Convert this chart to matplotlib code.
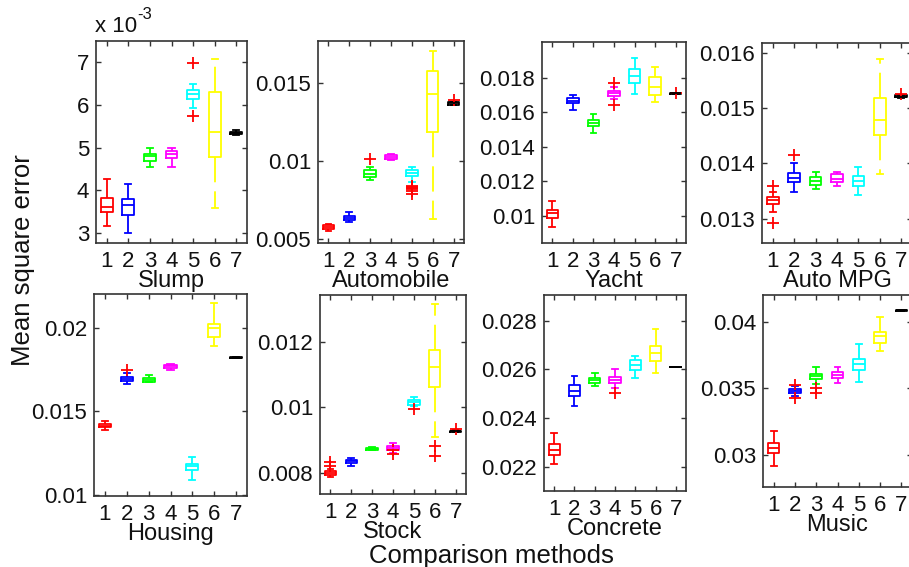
import matplotlib
matplotlib.use('Agg')
import matplotlib.pyplot as plt

plt.rcParams['font.family'] = ['Liberation Sans', 'DejaVu Sans']

methods = [1, 2, 3, 4, 5, 6, 7]
method_labels = ['1', '2', '3', '4', '5', '6', '7']
colors = ['#ff0000', '#0000ff', '#00ff00', '#ff00ff', '#00ffff', '#ffff00', '#000000']

# ---- Slump (values in units of 1e-3) ----
slump_lo  = [3.17, 3.00, 4.56, 4.56, 5.94, 3.58, 5.29]
slump_q1  = [3.50, 3.43, 4.68, 4.75, 6.15, 4.79, 5.32]
slump_med = [3.62, 3.65, 4.80, 4.85, 6.25, 5.37, 5.35]
slump_q3  = [3.83, 3.80, 4.86, 4.93, 6.35, 6.31, 5.38]
slump_hi  = [4.27, 4.15, 5.00, 5.00, 6.49, 7.09, 5.42]
slump_out = [[], [], [], [], [6.98, 5.74], [], []]
slump_ticks = [3, 4, 5, 6, 7]
slump_ticklabels = ['3', '4', '5', '6', '7']

# ---- Automobile ----
auto_lo  = [0.00553, 0.00609, 0.00880, 0.01010, 0.00865, 0.00632, 0.01358]
auto_q1  = [0.00566, 0.00622, 0.00900, 0.01015, 0.00904, 0.01190, 0.01362]
auto_med = [0.00579, 0.00637, 0.00921, 0.01028, 0.00925, 0.01432, 0.01370]
auto_q3  = [0.00592, 0.00652, 0.00942, 0.01041, 0.00945, 0.01581, 0.01378]
auto_hi  = [0.00600, 0.00677, 0.00964, 0.01045, 0.00962, 0.01709, 0.01382]
auto_out = [[], [], [0.01015], [], [0.00842, 0.00835, 0.00828, 0.0082, 0.00812, 0.0079], [], [0.0139]]
auto_ticks = [0.005, 0.01, 0.015]
auto_ticklabels = ['0.005', '0.01', '0.015']

# ---- Yacht ----
yacht_lo  = [0.00936, 0.01614, 0.01480, 0.01678, 0.01707, 0.01662, 0.01708]
yacht_q1  = [0.00983, 0.01653, 0.01519, 0.01697, 0.01769, 0.01699, 0.01710]
yacht_med = [0.01016, 0.01668, 0.01539, 0.01711, 0.01810, 0.01746, 0.01712]
yacht_q3  = [0.01031, 0.01682, 0.01558, 0.01724, 0.01854, 0.01808, 0.01714]
yacht_hi  = [0.01085, 0.01699, 0.01591, 0.01748, 0.01916, 0.01862, 0.01716]
yacht_out = [[], [], [], [0.01771, 0.01643], [], [], [0.01715]]
yacht_ticks = [0.01, 0.012, 0.014, 0.016, 0.018]
yacht_ticklabels = ['0.01', '0.012', '0.014', '0.016', '0.018']

# ---- Auto MPG ----
mpg_lo  = [0.01312, 0.01349, 0.01354, 0.01359, 0.01342, 0.01381, 0.01519]
mpg_q1  = [0.01327, 0.01366, 0.01361, 0.01366, 0.01359, 0.01451, 0.01520]
mpg_med = [0.01334, 0.01374, 0.01368, 0.01372, 0.01368, 0.01478, 0.01521]
mpg_q3  = [0.01339, 0.01383, 0.01376, 0.01380, 0.01378, 0.01519, 0.01523]
mpg_hi  = [0.01348, 0.01400, 0.01385, 0.01385, 0.01393, 0.01589, 0.01524]
mpg_out = [[0.01359, 0.01292], [0.01415], [], [], [], [], [0.01526]]
mpg_ticks = [0.013, 0.014, 0.015, 0.016]
mpg_ticklabels = ['0.013', '0.014', '0.015', '0.016']

# ---- Housing ----
housing_lo  = [0.01392, 0.01664, 0.01674, 0.01745, 0.01090, 0.01889, 0.01820]
housing_q1  = [0.01406, 0.01680, 0.01678, 0.01759, 0.01153, 0.01944, 0.01820]
housing_med = [0.01415, 0.01692, 0.01688, 0.01768, 0.01173, 0.01998, 0.01821]
housing_q3  = [0.01425, 0.01704, 0.01698, 0.01777, 0.01189, 0.02024, 0.01822]
housing_hi  = [0.01441, 0.01730, 0.01720, 0.01785, 0.01229, 0.02147, 0.01822]
housing_out = [[], [0.01748], [], [], [], [], []]
housing_ticks = [0.01, 0.015, 0.02]
housing_ticklabels = ['0.01', '0.015', '0.02']

# ---- Stock ----
stock_lo  = [0.00788, 0.00821, 0.00869, 0.00861, 0.01003, 0.00910, 0.00925]
stock_q1  = [0.00795, 0.00829, 0.00871, 0.00869, 0.01007, 0.01061, 0.00926]
stock_med = [0.00800, 0.00835, 0.00874, 0.00875, 0.01015, 0.01123, 0.00927]
stock_q3  = [0.00807, 0.00840, 0.00877, 0.00882, 0.01021, 0.01175, 0.00929]
stock_hi  = [0.00812, 0.00846, 0.00880, 0.00892, 0.01030, 0.01314, 0.00930]
stock_out = [[0.00821, 0.00833], [], [], [0.00869, 0.00858], [0.00996], [0.00882, 0.00853], [0.00935]]
stock_ticks = [0.008, 0.01, 0.012]
stock_ticklabels = ['0.008', '0.01', '0.012']

# ---- Concrete ----
concrete_lo  = [0.02210, 0.02451, 0.02533, 0.02525, 0.02566, 0.02585, 0.02608]
concrete_q1  = [0.02249, 0.02489, 0.02545, 0.02544, 0.02596, 0.02634, 0.02608]
concrete_med = [0.02271, 0.02510, 0.02555, 0.02556, 0.02616, 0.02668, 0.02608]
concrete_q3  = [0.02292, 0.02534, 0.02563, 0.02567, 0.02637, 0.02695, 0.02608]
concrete_hi  = [0.02338, 0.02573, 0.02584, 0.02600, 0.02656, 0.02766, 0.02608]
concrete_out = [[], [], [], [0.02504], [], [], []]
concrete_ticks = [0.022, 0.024, 0.026, 0.028]
concrete_ticklabels = ['0.022', '0.024', '0.026', '0.028']

# ---- Music ----
music_lo  = [0.02918, 0.03443, 0.03530, 0.03540, 0.03550, 0.03783, 0.04080]
music_q1  = [0.03013, 0.03465, 0.03568, 0.03575, 0.03640, 0.03843, 0.04082]
music_med = [0.03050, 0.03480, 0.03593, 0.03600, 0.03680, 0.03893, 0.04085]
music_q3  = [0.03090, 0.03493, 0.03610, 0.03623, 0.03723, 0.03925, 0.04088]
music_hi  = [0.03180, 0.03518, 0.03660, 0.03660, 0.03835, 0.04035, 0.04090]
music_out = [[], [0.03523, 0.03430], [0.03505, 0.03468], [], [], [], []]
music_ticks = [0.03, 0.035, 0.04]
music_ticklabels = ['0.03', '0.035', '0.04']

panels = [
    ('Slump', slump_lo, slump_q1, slump_med, slump_q3, slump_hi, slump_out, slump_ticks, slump_ticklabels,
     (2.77, 7.5), (96, 41, 247, 243)),
    ('Automobile', auto_lo, auto_q1, auto_med, auto_q3, auto_hi, auto_out, auto_ticks, auto_ticklabels,
     (0.00477, 0.0177), (318, 41, 464, 243)),
    ('Yacht', yacht_lo, yacht_q1, yacht_med, yacht_q3, yacht_hi, yacht_out, yacht_ticks, yacht_ticklabels,
     (0.0084, 0.0201), (542, 42, 686, 243)),
    ('Auto MPG', mpg_lo, mpg_q1, mpg_med, mpg_q3, mpg_hi, mpg_out, mpg_ticks, mpg_ticklabels,
     (0.01256, 0.01618), (762, 43, 912, 243)),
    ('Housing', housing_lo, housing_q1, housing_med, housing_q3, housing_hi, housing_out, housing_ticks,
     housing_ticklabels, (0.00996, 0.022), (94, 294, 247, 496)),
    ('Stock', stock_lo, stock_q1, stock_med, stock_q3, stock_hi, stock_out, stock_ticks, stock_ticklabels,
     (0.00736, 0.01342), (320, 295, 466, 494)),
    ('Concrete', concrete_lo, concrete_q1, concrete_med, concrete_q3, concrete_hi, concrete_out, concrete_ticks,
     concrete_ticklabels, (0.02101, 0.02905), (544, 295, 686, 491)),
    ('Music', music_lo, music_q1, music_med, music_q3, music_hi, music_out, music_ticks, music_ticklabels,
     (0.0276, 0.042), (763, 295, 912, 487)),
]

W, H = 909, 567
fig = plt.figure(figsize=(W / 100, H / 100), dpi=100)
fig.patch.set_facecolor('white')

spine_col = '#333333'
lw = 1.3

for (name, lo, q1, med, q3, hi, out, ticks, ticklabels, ylim, box) in panels:
    x0, y0, x1, y1 = box
    ax = fig.add_axes([x0 / W, 1 - y1 / H, (x1 - x0) / W, (y1 - y0) / H])
    for i, m in enumerate(methods):
        st = [dict(whislo=lo[i], q1=q1[i], med=med[i], q3=q3[i], whishi=hi[i], fliers=out[i])]
        c = colors[i]
        ax.bxp(st, positions=[m], widths=0.55, capwidths=0.28, showfliers=True,
               boxprops=dict(color=c, linewidth=lw),
               medianprops=dict(color=c, linewidth=lw),
               whiskerprops=dict(color=c, linewidth=lw, linestyle=(0, (14, 5))),
               capprops=dict(color=c, linewidth=lw),
               flierprops=dict(marker='+', markeredgecolor='#ff0000', markersize=9,
                               markeredgewidth=1.3, linestyle='none'))
    ax.set_xlim(0.5, 7.5)
    ax.set_ylim(*ylim)
    ax.set_xticks(methods)
    ax.set_xticklabels(method_labels)
    ax.set_yticks(ticks)
    ax.set_yticklabels(ticklabels)
    ax.tick_params(direction='in', top=True, right=True, length=3.5, width=1.0,
                   color=spine_col, labelsize=16, labelcolor='#111111')
    ax.tick_params(axis='x', pad=5.5)
    ax.tick_params(axis='y', pad=5)
    for s in ax.spines.values():
        s.set_color(spine_col)
        s.set_linewidth(1.2)
    ax.set_xlabel(name, fontsize=17, labelpad=-1, color='#111111')

fig.text(95 / W, 1 - 32 / H, 'x 10', fontsize=16, ha='left', va='baseline', color='#111111')
fig.text(137 / W, 1 - 19 / H, '-3', fontsize=12, ha='left', va='baseline', color='#111111')
fig.text(23 / W, 1 - 260 / H, 'Mean square error', fontsize=18.5, rotation=90,
         ha='center', va='center', color='#111111')
fig.text(491 / W, 1 - 556 / H, 'Comparison methods', fontsize=18.5,
         ha='center', va='center', color='#111111')

fig.savefig('out.png', dpi=100, facecolor='white')
